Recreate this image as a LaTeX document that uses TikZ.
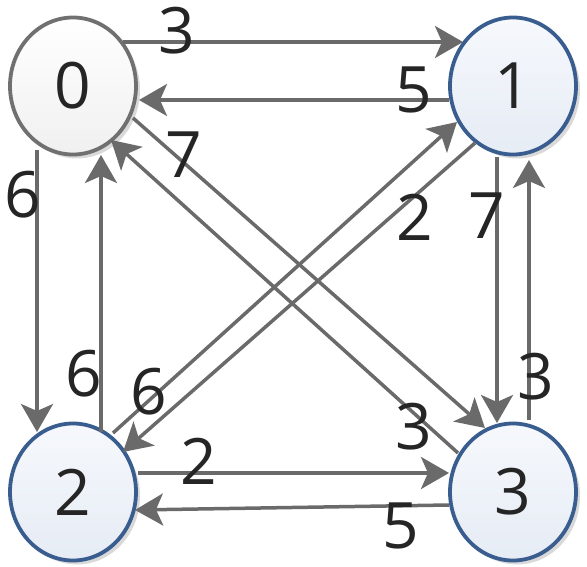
\documentclass[tikz,border=0pt]{standalone}
\usepackage{fontspec}
\setmainfont{Open Sans}
\usetikzlibrary{shapes.geometric,arrows.meta,calc,shadows}
\definecolor{edgegray}{HTML}{6A6A6A}
\definecolor{graybord}{HTML}{707070}
\definecolor{bluebord}{HTML}{3A5D90}
\definecolor{txt}{HTML}{252525}
\definecolor{blueTop}{HTML}{F6F8FC}
\definecolor{blueBot}{HTML}{E6ECF5}
\tikzset{
  vnode/.style={ellipse, minimum width=126pt, minimum height=137pt, line width=3.8pt,
    font=\fontsize{64}{64}\selectfont, text=txt,
    drop shadow={shadow xshift=4pt, shadow yshift=-4pt, opacity=0.15, fill=black}},
  graynode/.style={vnode, draw=graybord, top color=white, bottom color=black!6},
  bluenode/.style={vnode, draw=bluebord, top color=blueTop, bottom color=blueBot},
  edge/.style={draw=edgegray, line width=3.5pt,
    -{Stealth[length=28pt, width=32pt, inset=7pt]}},
  wlabel/.style={font=\fontsize{64}{64}\selectfont, text=txt, inner sep=0pt}
}
\begin{document}
\begin{tikzpicture}[x=1pt,y=-1pt]
\useasboundingbox (0,0) rectangle (587,567);
\node[graynode] (n0) at (73,86) {0};
\node[bluenode] (n1) at (513,86) {1};
\node[bluenode] (n2) at (73,492) {2};
\node[bluenode] (n3) at (513,492) {3};
% edges
\draw[edge] ($(n0)+(50,-44)$) -- ($(n1)+(-50,-44)$);
\draw[edge] ($(n1)+(-64,14)$) -- ($(n0)+(66,14)$);
\draw[edge] ($(n0)+(-36,64)$) -- ($(n2)+(-36,-60)$);
\draw[edge] ($(n2)+(28,-60)$) -- ($(n0)+(28,69)$);
\draw[edge] ($(n1)+(-16,71)$) -- ($(n3)+(-16,-69)$);
\draw[edge] ($(n3)+(16,-72)$) -- ($(n1)+(16,74)$);
\draw[edge] ($(n2)+(65,-19)$) -- ($(n3)+(-64,-19)$);
\draw[edge] ($(n3)+(-64,13)$) -- ($(n2)+(62,18)$);
\draw[edge] ($(n0)+(60,32)$) -- ($(n3)+(-28,-64)$);
\draw[edge] ($(n3)+(-55,-39)$) -- ($(n0)+(38,54)$);
\draw[edge] ($(n1)+(-38,57)$) -- ($(n2)+(50,-40)$);
\draw[edge] ($(n2)+(40,-59)$) -- ($(n1)+(-56,36)$);
% labels
\node[wlabel] (l01) at (177,31) {3};
\node[wlabel] (l10) at (414,90) {5};
\node[wlabel] (l02) at (23,195) {6};
\node[wlabel] (l20) at (84,374) {6};
\node[wlabel] (l13) at (487,216) {7};
\node[wlabel] (l31) at (536,377) {3};
\node[wlabel] (l23) at (199,461) {2};
\node[wlabel] (l32) at (401,526) {5};
\node[wlabel] (l03) at (184,155) {7};
\node[wlabel] (l30) at (414,427) {3};
\node[wlabel] (l12) at (149,392) {6};
\node[wlabel] (l21) at (415,217) {2};
\end{tikzpicture}
\end{document}
